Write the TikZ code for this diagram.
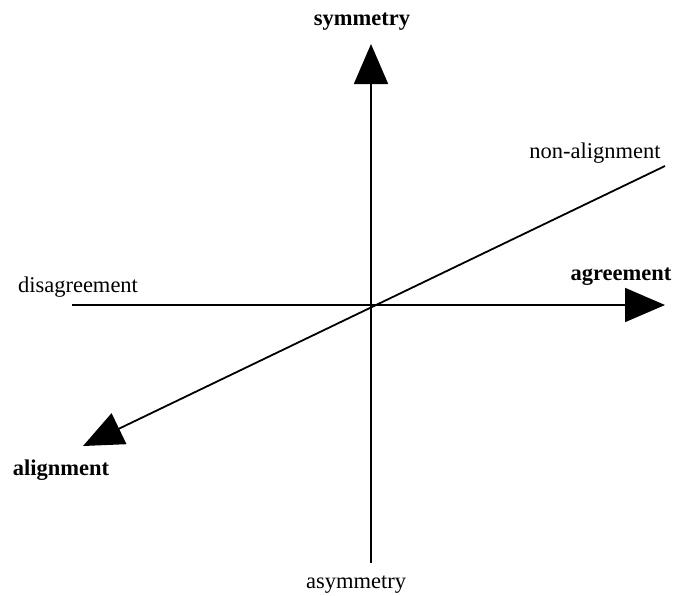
\documentclass[tikz,border=0pt]{standalone}
\usepackage{fontspec}
\setmainfont{Liberation Serif}
\usetikzlibrary{arrows.meta}
\begin{document}
\begin{tikzpicture}[x=1pt,y=-1pt,
  axis/.style={line width=1.8pt,-{Triangle[length=40pt,width=34pt]}},
  lbl/.style={anchor=base,inner sep=0pt,font=\fontsize{22.5}{26}\selectfont},
  blbl/.style={anchor=base,inner sep=0pt,font=\fontsize{22.5}{26}\selectfont\bfseries}]
\useasboundingbox (0,0) rectangle (677,595);
\coordinate (vbot) at (371,563);
\coordinate (vtop) at (371,44);
\coordinate (hl) at (72,305);
\coordinate (hr) at (665,305);
\coordinate (dr) at (665,166);
\coordinate (dl) at (83,446);
\draw[axis] (vbot) -- (vtop);
\draw[axis] (hl) -- (hr);
\draw[axis] (dr) -- (dl);
\node[blbl] (sym) at (362,25) {symmetry};
\node[lbl] (asym) at (356,588) {asymmetry};
\node[lbl] (nal) at (595,158) {non-alignment};
\node[lbl] (dis) at (78,292) {disagreement};
\node[blbl] (agr) at (621,280) {agreement};
\node[blbl] (al) at (61,475) {alignment};
\end{tikzpicture}
\end{document}
